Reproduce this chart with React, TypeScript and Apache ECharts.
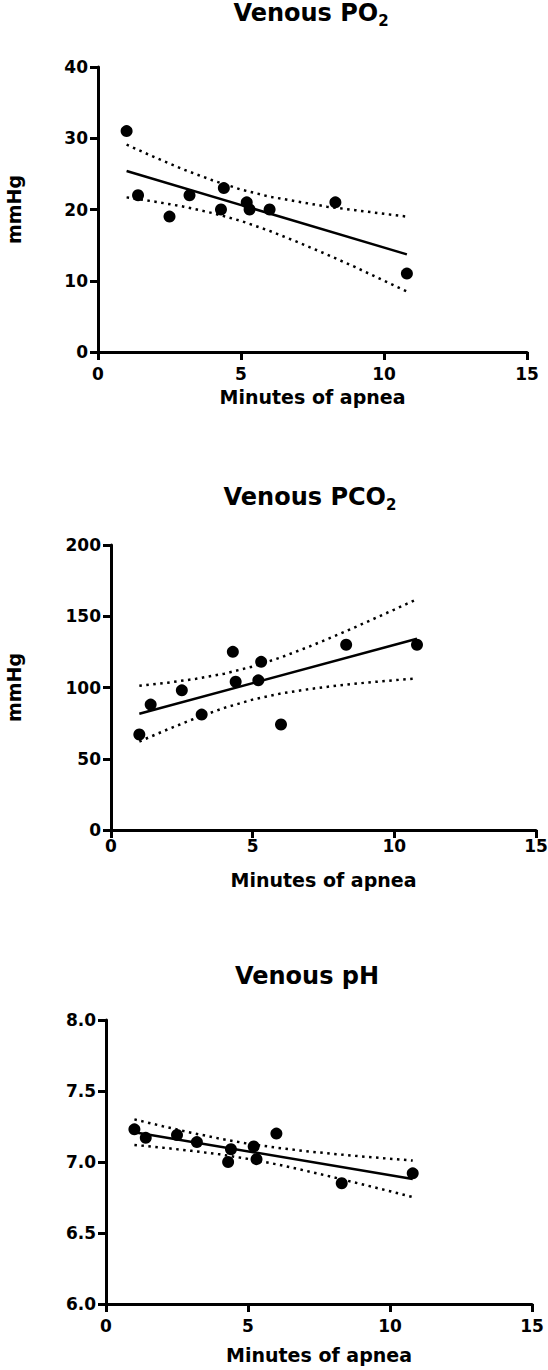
import React, { useEffect, useRef } from 'react';
import * as echarts from 'echarts';

// ---- data ----
const xTicks = [0, 5, 10, 15];

const po2Minutes = [1.0, 1.4, 2.5, 3.2, 4.4, 4.3, 5.2, 5.3, 6.0, 8.3, 10.8];
const po2Values = [31, 22, 19, 22, 23, 20, 21, 20, 20, 21, 11];

const pco2Minutes = [1.0, 1.4, 2.5, 3.2, 4.3, 4.4, 5.2, 5.3, 6.0, 8.3, 10.8];
const pco2Values = [67, 88, 98, 81, 125, 104, 105, 118, 74, 130, 130];

const phMinutes = [1.0, 1.4, 2.5, 3.2, 4.4, 4.3, 5.2, 5.3, 6.0, 8.3, 10.8];
const phValues = [7.23, 7.17, 7.19, 7.14, 7.09, 7.0, 7.11, 7.02, 7.2, 6.85, 6.92];

const fitMinutes = [1.0, 10.8];
const po2Fit = [25.4, 13.7];
const pco2Fit = [81.6, 134.2];
const phFit = [7.21, 6.88];

const bandMinutes = [1, 2, 3, 4, 5, 6, 7, 8, 9, 10, 10.8];
const po2Upper = [29.1, 27.3, 25.6, 24.1, 22.8, 21.8, 21.1, 20.4, 19.9, 19.4, 19.0];
const po2Lower = [21.7, 21.1, 20.4, 19.5, 18.4, 17.0, 15.4, 13.7, 11.9, 10.0, 8.5];
const pco2Upper = [101.2, 103.4, 106.1, 109.7, 114.7, 121.1, 128.7, 137.0, 145.7, 154.7, 162.0];
const pco2Lower = [62.1, 70.6, 78.6, 85.7, 91.5, 95.8, 98.9, 101.4, 103.4, 105.1, 106.4];
const phUpper = [7.3, 7.252, 7.206, 7.165, 7.129, 7.101, 7.077, 7.057, 7.039, 7.023, 7.01];
const phLower = [7.12, 7.101, 7.079, 7.054, 7.022, 6.984, 6.94, 6.893, 6.844, 6.794, 6.753];

const FONT = 'DejaVu Sans';

const zip = (xs: number[], ys: number[]) => xs.map((x, i) => [x, ys[i]]);

function title(text: string, sub: string, x: number, y: number) {
  const base = { fontFamily: FONT, fontWeight: 'bold', fill: '#000' };
  return {
    type: 'text',
    x,
    y,
    style: {
      text: sub ? `{m|${text}}{s|${sub}}` : `{m|${text}}`,
      align: 'center',
      verticalAlign: 'middle',
      rich: {
        m: { ...base, fontSize: 24, lineHeight: 30 },
        s: { ...base, fontSize: 15, lineHeight: 17, verticalAlign: 'bottom' },
      },
    },
  };
}

export default function App() {
  const ref = useRef<HTMLDivElement>(null);
  useEffect(() => {
    if (!ref.current) return;
    const chart = echarts.init(ref.current, undefined, { renderer: 'svg' });

    const grids = [
      { left: 98, top: 67, width: 429, height: 285 },
      { left: 111, top: 545, width: 425, height: 285 },
      { left: 106, top: 1020, width: 426, height: 284 },
    ].map((g) => ({ ...g, containLabel: false, outerBoundsMode: 'none' }));

    const axisLineStyle = { color: '#000', width: 3 };
    const labelBase = { color: '#000', fontFamily: FONT, fontWeight: 'bold', fontSize: 17 };
    const nameBase = { color: '#000', fontFamily: FONT, fontWeight: 'bold' };

    const xMargins = [13, 7, 13];
    const xNameGaps = [35, 40, 41];
    const xAxes = [0, 1, 2].map((i) => ({
      type: 'value',
      gridIndex: i,
      min: xTicks[0],
      max: xTicks[xTicks.length - 1],
      interval: 5,
      name: 'Minutes of apnea',
      nameLocation: 'middle',
      nameGap: xNameGaps[i],
      nameTextStyle: { ...nameBase, fontSize: 19 },
      axisLine: { show: true, onZero: false, lineStyle: axisLineStyle },
      axisTick: { show: true, length: 8, lineStyle: axisLineStyle },
      axisLabel: { ...labelBase, margin: xMargins[i], showMaxLabel: true, showMinLabel: true },
      splitLine: { show: false },
    }));

    const yCommon = {
      type: 'value',
      axisLine: { show: true, onZero: false, lineStyle: axisLineStyle },
      axisTick: { show: true, length: 8, lineStyle: axisLineStyle },
      splitLine: { show: false },
      nameLocation: 'middle',
      nameRotate: 90,
      nameTextStyle: { ...nameBase, fontSize: 19 },
    };
    const yAxes = [
      { ...yCommon, gridIndex: 0, min: 0, max: 40, interval: 10, name: 'mmHg', nameGap: 75,
        axisLabel: { ...labelBase, margin: 10 } },
      { ...yCommon, gridIndex: 1, min: 0, max: 200, interval: 50, name: 'mmHg', nameGap: 88,
        axisLabel: { ...labelBase, margin: 10 } },
      { ...yCommon, gridIndex: 2, min: 6, max: 8, interval: 0.5,
        axisLabel: { ...labelBase, margin: 10, formatter: (v: number) => v.toFixed(1) } },
    ];

    const panels = [
      { xs: po2Minutes, ys: po2Values, fit: po2Fit, up: po2Upper, lo: po2Lower },
      { xs: pco2Minutes, ys: pco2Values, fit: pco2Fit, up: pco2Upper, lo: pco2Lower },
      { xs: phMinutes, ys: phValues, fit: phFit, up: phUpper, lo: phLower },
    ];

    const series: any[] = [];
    panels.forEach((p, i) => {
      const dotted = { color: '#000', width: 2.5, type: [2.5, 4.5], opacity: 1 };
      series.push({
        type: 'line', xAxisIndex: i, yAxisIndex: i, data: zip(bandMinutes, p.up),
        showSymbol: false, symbol: 'none', lineStyle: dotted, z: 2, silent: true,
      });
      series.push({
        type: 'line', xAxisIndex: i, yAxisIndex: i, data: zip(bandMinutes, p.lo),
        showSymbol: false, symbol: 'none', lineStyle: dotted, z: 2, silent: true,
      });
      series.push({
        type: 'line', xAxisIndex: i, yAxisIndex: i, data: zip(fitMinutes, p.fit),
        showSymbol: false, symbol: 'none', lineStyle: { color: '#000', width: 2.5, opacity: 1 }, z: 3, silent: true,
      });
      series.push({
        type: 'scatter', xAxisIndex: i, yAxisIndex: i, data: zip(p.xs, p.ys),
        symbol: 'circle', symbolSize: 12, itemStyle: { color: '#000', opacity: 1 }, z: 4, silent: true,
      });
    });

    chart.setOption({
      animation: false,
      backgroundColor: '#fff',
      grid: grids,
      xAxis: xAxes,
      yAxis: yAxes,
      series,
      graphic: [
        title('Venous PO', '2', 311, 13),
        title('Venous PCO', '2', 310, 497),
        title('Venous pH', '', 307, 976),
      ],
    });
    return () => chart.dispose();
  }, []);

  return (
    <div
      ref={ref}
      style={{ position: 'absolute', left: 0, top: 0, width: 548, height: 1370, background: '#fff' }}
    />
  );
}
